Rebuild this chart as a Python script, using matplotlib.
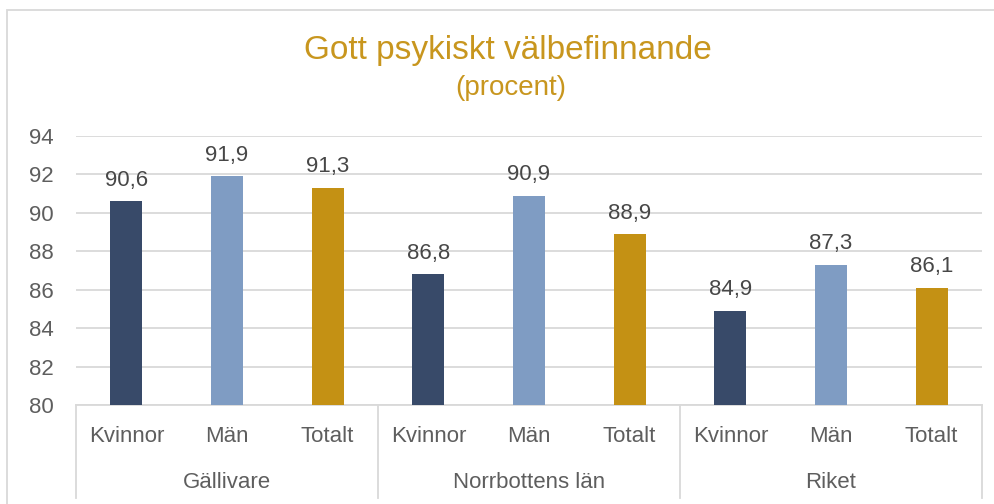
import matplotlib
matplotlib.use("Agg")
import matplotlib.pyplot as plt
from matplotlib.patches import Rectangle
from matplotlib.lines import Line2D

# Data
groups = ["Gällivare", "Norrbottens län", "Riket"]
subcats = ["Kvinnor", "Män", "Totalt"]
kvinnor = [90.6, 86.8, 84.9]
man = [91.9, 90.9, 87.3]
totalt = [91.3, 88.9, 86.1]
yticks = [80, 82, 84, 86, 88, 90, 92, 94]

colors = {"Kvinnor": "#384a69", "Män": "#7f9cc3", "Totalt": "#c49114"}
text_gray = "#5e5e5e"
value_gray = "#474747"
grid_gray = "#d9d9d9"
title_gold = "#c8961e"

plt.rcParams["font.family"] = ["Liberation Sans", "DejaVu Sans"]

W, H = 995, 504
fig = plt.figure(figsize=(W / 100, H / 100), dpi=100)

# plot area in pixels
left, right, top, bottom = 76, 982, 136, 405
ax = fig.add_axes([left / W, 1 - bottom / H, (right - left) / W, (bottom - top) / H])

values = []
labels = []
cols = []
for gi, g in enumerate(groups):
    for s, arr in zip(subcats, [kvinnor, man, totalt]):
        values.append(arr[gi])
        labels.append(s)
        cols.append(colors[s])

n = len(values)
xs = list(range(n))
ax.bar(xs, [v - 80 for v in values], bottom=80, width=0.32, color=cols, zorder=3)
for x, v in zip(xs, values):
    ax.annotate(f"{v:.1f}".replace(".", ","), (x, v), xytext=(0, 7.5),
                textcoords="offset points", ha="center", va="bottom",
                fontsize=16, color=value_gray)

ax.set_xlim(-0.5, n - 0.5)
ax.set_ylim(80, 94)
ax.set_yticks(yticks)
ax.set_yticklabels([str(t) for t in yticks], fontsize=16, color=text_gray)
ax.tick_params(axis="y", length=0, pad=16)
ax.set_xticks([])
ax.yaxis.grid(True, color=grid_gray, linewidth=1.3, zorder=0)
for sp in ["top", "right", "left"]:
    ax.spines[sp].set_visible(False)
ax.spines["bottom"].set_color(grid_gray)
ax.spines["bottom"].set_linewidth(1.3)

# category labels below the axis
trans = ax.get_xaxis_transform()
for x, lab in zip(xs, labels):
    ax.text(x, -(436 - bottom) / (bottom - top), lab, transform=trans,
            ha="center", va="center", fontsize=16, color=text_gray)
for gi, g in enumerate(groups):
    ax.text(gi * 3 + 1, -(483 - bottom) / (bottom - top), g, transform=trans,
            ha="center", va="center", fontsize=16, color=text_gray)
# group separators
for k in range(len(groups) + 1):
    ax.add_line(Line2D([k * 3 - 0.5, k * 3 - 0.5], [0, -(498 - bottom) / (bottom - top)],
                       transform=trans, color=grid_gray, linewidth=1.3, clip_on=False))

# title
fig.text(508 / W, 1 - 50 / H, "Gott psykiskt välbefinnande", ha="center", va="center",
         fontsize=24, color=title_gold)
fig.text(511 / W, 1 - 88 / H, "(procent)", ha="center", va="center",
         fontsize=20, color=title_gold)

# chart frame
fig.add_artist(Rectangle((7 / W, -0.1), 1.1, 1.1 - 10 / H, transform=fig.transFigure,
                         fill=False, edgecolor="#d9d9d9", linewidth=1.3))

fig.savefig("out.png", dpi=100, facecolor="white")
